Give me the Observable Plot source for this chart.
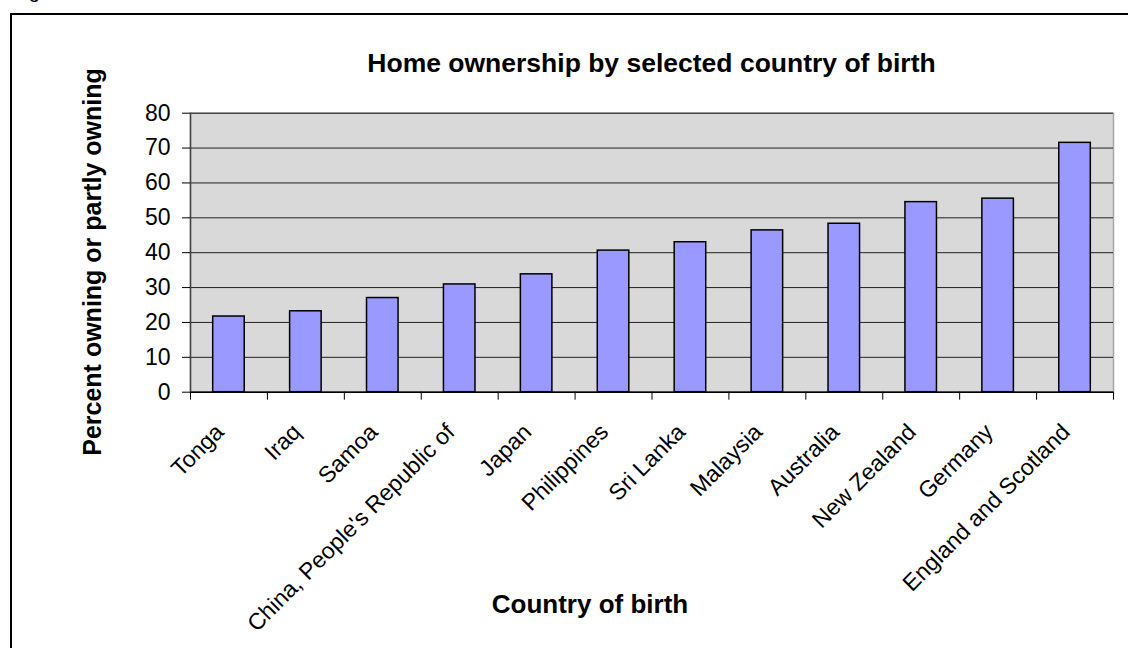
<!DOCTYPE html>
<html><head><meta charset="utf-8">
<script src="https://cdn.jsdelivr.net/npm/d3@7"></script>
<script src="https://cdn.jsdelivr.net/npm/@observablehq/plot@0.6"></script>
<style>
body{margin:0;background:#fff;overflow:hidden;font-family:"Liberation Sans",Arial,sans-serif;color:#000;}
#wrap{position:relative;width:1128px;height:648px;overflow:hidden;}
#frame{position:absolute;left:10px;top:13px;width:1300px;height:800px;border:2px solid #000;box-sizing:border-box;}
#fig{position:absolute;left:12px;top:-21px;font-size:20px;line-height:24px;white-space:nowrap;}
#title{position:absolute;left:190px;width:923px;top:48px;text-align:center;font-weight:bold;font-size:26.5px;line-height:30px;white-space:nowrap;}
#ytitle{position:absolute;left:92px;top:262px;transform:translate(-50%,-50%) rotate(-90deg);font-weight:bold;font-size:25px;white-space:nowrap;}
#xtitle{position:absolute;left:590px;top:604px;transform:translate(-50%,-50%);font-weight:bold;font-size:26px;white-space:nowrap;}
#chart{position:absolute;left:0;top:90px;}
</style></head>
<body><div id="wrap">
<div id="frame"></div>
<div id="fig">Figure</div>
<div id="title"></div>
<div id="chart"></div>
<div id="ytitle"></div>
<div id="xtitle"></div>
</div>
<script>
const countries = ["Tonga","Iraq","Samoa","China, People's Republic of","Japan","Philippines","Sri Lanka","Malaysia","Australia","New Zealand","Germany","England and Scotland"];
const percentOwning = [21.7, 23.2, 27.0, 30.9, 33.8, 40.6, 43.0, 46.4, 48.3, 54.5, 55.5, 71.5];
const yTicks = [0, 10, 20, 30, 40, 50, 60, 70, 80];
const chartTitle = "Home ownership by selected country of birth";
const xTitle = "Country of birth";
const yTitle = "Percent owning or partly owning";

document.getElementById("title").textContent = chartTitle;
document.getElementById("xtitle").textContent = xTitle;
document.getElementById("ytitle").textContent = yTitle;

const data = countries.map((c, i) => ({country: c, value: percentOwning[i]}));
const W = 1128, ML = 190, MR = 15;
const step = (W - ML - MR) / countries.length;

const chart = Plot.plot({
  width: W, height: 558,
  marginLeft: ML, marginRight: MR, marginTop: 22.7, marginBottom: 256.3,
  style: {fontFamily: "'Liberation Sans', Arial, sans-serif", fontSize: "23px", color: "#000", background: "transparent", overflow: "visible"},
  x: {domain: countries, paddingInner: 0.59, paddingOuter: 0.295, align: 0.5, round: false},
  y: {domain: [0, 80]},
  marks: [
    Plot.frame({fill: "#d9d9d9", stroke: "#a6a6a6", strokeWidth: 1.5}),
    Plot.gridY(yTicks, {stroke: "#000", strokeOpacity: 0.85, strokeWidth: 1}),
    Plot.barY(data, {x: "country", y: "value", fill: "#9999ff", stroke: "#000", strokeWidth: 1.5}),
    Plot.ruleY([0], {stroke: "#000", strokeWidth: 1.5}),
    Plot.ruleX([countries[0]], {dx: -step / 2, stroke: "#444", strokeWidth: 1.5}),
    Plot.ruleX(countries, {x: d => d, y1: 0, y2: 0, insetBottom: -8, dx: -step / 2, stroke: "#000", strokeWidth: 1}),
    Plot.ruleX([countries[countries.length - 1]], {y1: 0, y2: 0, insetBottom: -8, dx: step / 2, stroke: "#000", strokeWidth: 1}),
    Plot.axisY(yTicks, {tickSize: 8, tickPadding: 12, fontSize: 23, label: null, stroke: "#000"}),
    Plot.axisX({tickRotate: -45, tickSize: 0, tickPadding: 32, dx: -9, dy: 4, fontSize: 23, label: null})
  ]
});
document.getElementById("chart").appendChild(chart);
</script>
</body></html>
